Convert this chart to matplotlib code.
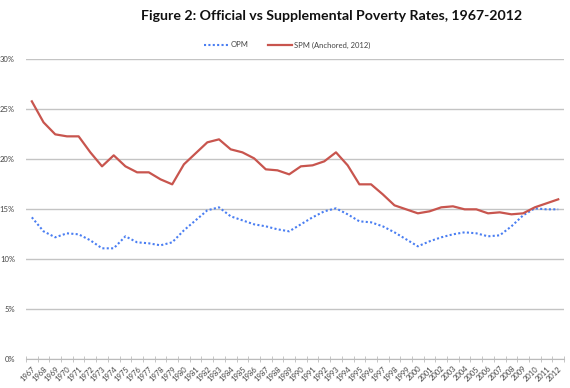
import matplotlib
matplotlib.use('Agg')
import matplotlib.pyplot as plt
import numpy as np

plt.rcParams['font.family'] = ['Lato', 'DejaVu Sans']

years = list(range(1967, 2013))
opm = [14.2, 12.8, 12.2, 12.6, 12.5, 11.9, 11.1, 11.1, 12.3, 11.7,
       11.6, 11.4, 11.7, 12.9, 13.9, 14.9, 15.2, 14.3, 13.9, 13.5,
       13.3, 13.0, 12.8, 13.5, 14.2, 14.8, 15.1, 14.5, 13.8, 13.7,
       13.3, 12.7, 12.0, 11.3, 11.8, 12.2, 12.5, 12.7, 12.6, 12.3,
       12.4, 13.3, 14.4, 15.1, 15.0, 15.0]
spm = [25.8, 23.7, 22.5, 22.3, 22.3, 20.7, 19.3, 20.4, 19.3, 18.7,
       18.7, 18.0, 17.5, 19.5, 20.6, 21.7, 22.0, 21.0, 20.7, 20.1,
       19.0, 18.9, 18.5, 19.3, 19.4, 19.8, 20.7, 19.4, 17.5, 17.5,
       16.5, 15.4, 15.0, 14.6, 14.8, 15.2, 15.3, 15.0, 15.0, 14.6,
       14.7, 14.5, 14.6, 15.2, 15.6, 16.0]
yticks = [0, 5, 10, 15, 20, 25, 30]

fig = plt.figure(figsize=(5.7, 3.88), dpi=100)
ax = fig.add_axes([0.0456, 0.074, 0.944, 0.773])

x = np.arange(len(years))
ax.plot(x, opm, color='#4a7ef2', linestyle=(0, (1, 1.1)), linewidth=1.5, label='OPM')
ax.plot(x, spm, color='#c8554e', linewidth=1.6, label='SPM (Anchored, 2012)')

ax.set_xlim(-0.5, len(years) - 0.5)
ax.set_ylim(0, 30)
ax.set_yticks(yticks)
ax.set_yticklabels(['%d%%' % v for v in yticks], fontsize=5.5, color='#444444')
ax.yaxis.grid(True, color='#c4c4c4', linewidth=1)
ax.set_axisbelow(True)
ax.tick_params(axis='y', length=0, pad=8)

# ticks between categories, labels at centres
ax.set_xticks(x)
ax.set_xticklabels([str(y) for y in years], rotation=45, ha='right',
                   rotation_mode='anchor', fontsize=5.5, color='#444444')
ax.set_xticks(np.arange(-0.5, len(years)), minor=True)
ax.tick_params(axis='x', which='major', length=0, pad=4)
ax.tick_params(axis='x', which='minor', length=4, direction='inout', color='#bbbbbb')

for s in ['top', 'right', 'left']:
    ax.spines[s].set_visible(False)
ax.spines['bottom'].set_color('#bbbbbb')

fig.text(0.582, 0.958, 'Figure 2: Official vs Supplemental Poverty Rates, 1967-2012',
         ha='center', va='center', fontsize=10.2, fontweight='bold', color='#111111')
fig.legend(loc='center', bbox_to_anchor=(0.504, 0.884), ncol=2, frameon=False,
           fontsize=5.5, handlelength=3.2, columnspacing=2.5, handletextpad=0.3,
           labelcolor='#444444')

plt.savefig('out.png', dpi=100)
